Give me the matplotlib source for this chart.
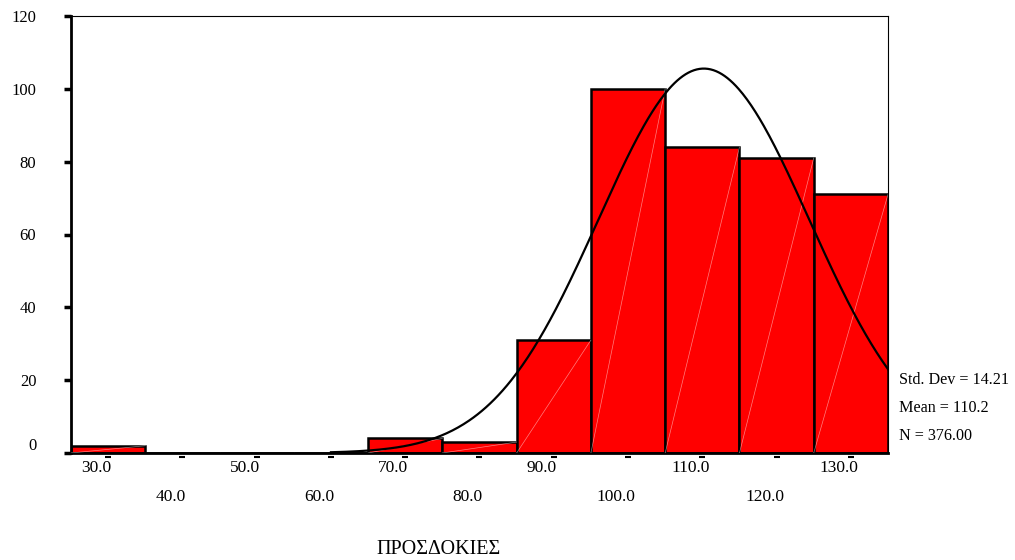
import numpy as np
import matplotlib
matplotlib.use("Agg")
import matplotlib.pyplot as plt
import matplotlib.transforms as mtransforms

plt.rcParams['font.family'] = ['Liberation Serif', 'DejaVu Serif']

# histogram of ΠΡΟΣΔΟΚΙΕΣ, bins of width 10
bin_centers = [30, 40, 50, 60, 70, 80, 90, 100, 110, 120, 130]
counts = [2, 0, 0, 0, 4, 3, 31, 100, 84, 81, 71]
tick_labels = ['30.0', '40.0', '50.0', '60.0', '70.0', '80.0', '90.0',
               '100.0', '110.0', '120.0', '130.0']
bin_width = 10
std_dev = 14.21
mean = 110.2
n = 376

DPI = 100
fig = plt.figure(figsize=(10.15, 5.6), dpi=DPI)
ax = fig.add_axes([71 / 1015, 1 - 453 / 560, (888 - 71) / 1015, (453 - 16) / 560])


def px(dx, dy):
    # shift by a number of pixels
    return mtransforms.ScaledTranslation(dx / DPI, dy / DPI, fig.dpi_scale_trans)


ax.bar(bin_centers, counts, width=bin_width, color='#ff0000',
       edgecolor='black', linewidth=1.8, zorder=2)

# faint diagonal streaks inside the bars
for c, h in zip(bin_centers, counts):
    if h > 0:
        ax.plot([c - bin_width / 2, c + bin_width / 2], [0, h], color='white',
                lw=0.5, alpha=0.5, zorder=3)

# normal curve scaled to the counts
xs = np.linspace(60, 135, 400)
ys = n * bin_width / (std_dev * np.sqrt(2 * np.pi)) * np.exp(-0.5 * ((xs - mean) / std_dev) ** 2)
ax.plot(xs, ys, color='black', lw=1.6, zorder=4)

ax.set_xlim(25, 135)
ax.set_ylim(0, 120)
ax.set_yticks([0, 20, 40, 60, 80, 100, 120])
ax.tick_params(axis='y', direction='out', length=5, width=2.5, pad=20, labelsize=12)
ax.set_xticks([])

for side in ['left', 'bottom']:
    ax.spines[side].set_linewidth(2)
for side in ['top', 'right']:
    ax.spines[side].set_linewidth(0.8)

# lift the zero label a bit
for lbl in ax.get_yticklabels():
    if lbl.get_text() == '0':
        lbl.set_transform(lbl.get_transform() + px(0, 9))

# x tick dashes under the axis, labels staggered in two rows
trans = mtransforms.blended_transform_factory(ax.transData, ax.transAxes)
ax.plot(bin_centers, [0] * len(bin_centers), linestyle='none', marker='_',
        markersize=5, mew=1.5, color='black', transform=trans + px(0, -4), clip_on=False)
for i, (c, lab) in enumerate(zip(bin_centers, tick_labels)):
    dy = -15 if i % 2 == 0 else -44
    ax.text(c, 0, lab, transform=trans + px(-12, dy), ha='center', va='center',
            fontsize=12.5, clip_on=False)

fig.text(899 / 1015, 1 - 380 / 560, 'Std. Dev = 14.21', ha='left', va='center', fontsize=11.6)
fig.text(899 / 1015, 1 - 408 / 560, 'Mean = 110.2', ha='left', va='center', fontsize=11.6)
fig.text(899 / 1015, 1 - 436 / 560, 'N = 376.00', ha='left', va='center', fontsize=11.6)

fig.text(439 / 1015, 1 - 550 / 560, 'ΠΡΟΣΔΟΚΙΕΣ', ha='center', va='center', fontsize=14.5)

fig.savefig('out.png', dpi=DPI)
